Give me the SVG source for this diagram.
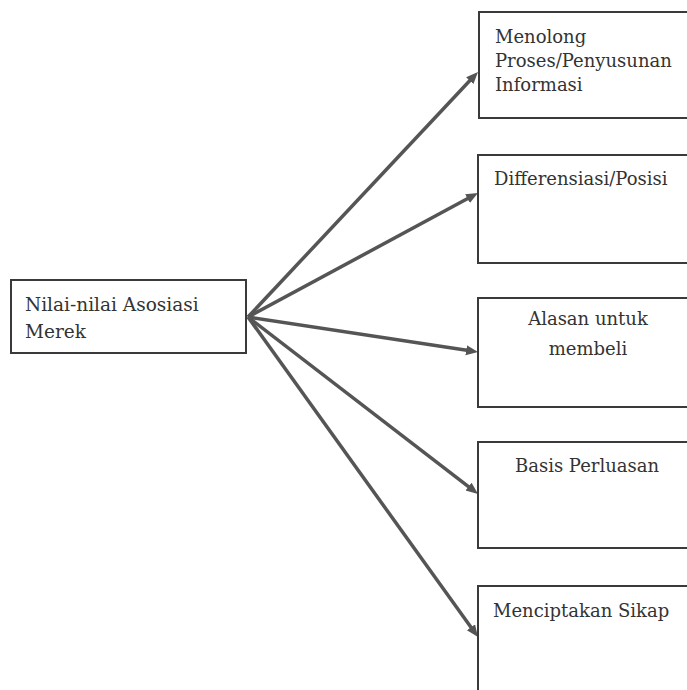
<svg xmlns="http://www.w3.org/2000/svg" width="687" height="690" viewBox="0 0 687 690">
  <style>
    .box { fill: #ffffff; stroke: #3a3a3a; stroke-width: 2; }
    .lbl { font-family: "DejaVu Serif", "Liberation Serif", serif; font-size: 18px; fill: #333333; }
    .mid { text-anchor: middle; }
    .conn { stroke: #555555; stroke-width: 3.5; fill: none; marker-end: url(#ah); }
  </style>
  <defs>
    <marker id="ah" markerUnits="userSpaceOnUse" markerWidth="13" markerHeight="11" refX="4" refY="5" orient="auto">
      <path d="M0,0 L12,5 L0,10 z" fill="#555555"/>
    </marker>
  </defs>
  <rect width="687" height="690" fill="#ffffff"/>

  <g id="connectors">
    <line class="conn" x1="248" y1="317" x2="472.5" y2="77.8"/>
    <line class="conn" x1="248" y1="317" x2="471" y2="196.8"/>
    <line class="conn" x1="248" y1="317" x2="470.1" y2="350.8"/>
    <line class="conn" x1="248" y1="317" x2="471.7" y2="489.1"/>
    <line class="conn" x1="248" y1="317" x2="473.3" y2="630.5"/>
  </g>

  <g id="node-source">
    <rect class="box" x="11" y="280" width="235" height="73"/>
    <text class="lbl" x="25" y="311" style="font-size:18.5px">Nilai-nilai Asosiasi</text>
    <text class="lbl" x="25" y="338" style="font-size:18.5px">Merek</text>
  </g>

  <g id="node-menolong">
    <rect class="box" x="479" y="12" width="220" height="106"/>
    <text class="lbl" x="495" y="43">Menolong</text>
    <text class="lbl" x="495" y="67">Proses/Penyusunan</text>
    <text class="lbl" x="495" y="91">Informasi</text>
  </g>

  <g id="node-differensiasi">
    <rect class="box" x="478" y="155" width="220" height="108"/>
    <text class="lbl" x="494" y="185">Differensiasi/Posisi</text>
  </g>

  <g id="node-alasan">
    <rect class="box" x="478" y="298" width="220" height="109"/>
    <text class="lbl mid" x="588" y="325">Alasan untuk</text>
    <text class="lbl mid" x="588" y="355">membeli</text>
  </g>

  <g id="node-basis">
    <rect class="box" x="478" y="442" width="220" height="106"/>
    <text class="lbl mid" x="587" y="472">Basis Perluasan</text>
  </g>

  <g id="node-sikap">
    <rect class="box" x="478" y="586" width="220" height="120"/>
    <text class="lbl" x="493" y="617">Menciptakan Sikap</text>
  </g>
</svg>
